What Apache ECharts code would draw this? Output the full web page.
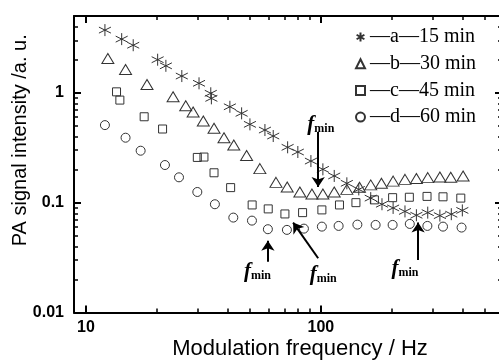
<!DOCTYPE html>
<html><head><meta charset="utf-8">
<script src="https://cdn.jsdelivr.net/npm/echarts@6/dist/echarts.min.js"></script>
<style>html,body{margin:0;padding:0;background:#fff}#c{width:499px;height:360px}</style>
</head><body><div id="c"></div>
<script>
// ---- data ----
const seriesNames = ['—a—15 min', '—b—30 min', '—c—45 min', '—d—60 min'];

const freqA = [12.05,14.2,15.9,20.2,21.9,25.6,30.3,34.0,34.2,41.0,46.0,49.9,57.8,62.7,72.2,79.8,90.7,102,114,129,145,163,182,203,228,255,285,321,359,400];
const valA  = [3.72,3.08,2.71,2.00,1.76,1.42,1.22,0.99,0.89,0.746,0.65,0.516,0.458,0.404,0.319,0.289,0.239,0.201,0.175,0.150,0.132,0.110,0.0967,0.0895,0.0832,0.0768,0.0811,0.0762,0.0785,0.085];

const freqB = [12.4,14.75,18.2,23.5,26.6,28.6,31.6,35.1,38.7,42.6,48.3,55.0,64.4,71.9,81.4,91.6,102,114,129,146,163,181,203,228,255,285,321,357,403];
const valB  = [2.05,1.63,1.19,0.92,0.762,0.668,0.553,0.475,0.390,0.335,0.269,0.204,0.153,0.139,0.125,0.120,0.120,0.125,0.132,0.138,0.145,0.150,0.157,0.163,0.166,0.169,0.171,0.170,0.175];

const freqC = [13.5,13.95,17.7,21.2,29.8,31.8,35.1,41.3,51.0,59.7,70.3,83.6,101,120,141,169,202,238,283,331,394];
const valC  = [1.02,0.858,0.605,0.468,0.258,0.26,0.187,0.137,0.0953,0.0877,0.0789,0.0811,0.0859,0.0953,0.100,0.106,0.111,0.112,0.114,0.113,0.110];

const freqD = [12.05,14.75,17.1,21.7,24.9,29.8,35.4,42.4,50.9,59.5,71.7,84.7,101,119,143,171,202,239,284,331,397];
const valD  = [0.508,0.390,0.297,0.220,0.170,0.125,0.0967,0.0731,0.0686,0.0573,0.0565,0.0580,0.0605,0.0614,0.0631,0.0627,0.0627,0.064,0.0614,0.0605,0.0593];

// ticks
const xMajorTicks = [10, 100];
const xMinorTicks = [20,30,40,50,60,70,80,90,200,300,400,500];
const xTickLabels = ['10', '100'];
const yMajorTicks = [0.01, 0.1, 1];
const yMinorTicks = [0.02,0.03,0.04,0.05,0.06,0.07,0.08,0.09,0.2,0.3,0.4,0.5,0.6,0.7,0.8,0.9,2,3,4];
const yTickLabels = ['0.01', '0.1', '1'];

// annotations (data coordinates)
const fminArrows = [
  [[97.4, 0.44], [97.4, 0.139]],
  [[59.5, 0.0289], [59.5, 0.0451]],
  [[97.4, 0.0312], [76.2, 0.0658]],
  [[259.4, 0.0301], [259.4, 0.0658]]
];
const fminLabels = [[100, 0.519], [53.7, 0.0239], [102.3, 0.0225], [227.8, 0.0255]];

// ---- chart ----
const XMIN = 8.9, XMAX = 590, YMIN = 0.01, YMAX = 5;
const AX = '#000';

function xAxisDef(pos, ticks, len, labels, showLine) {
  return {
    type: 'log', logBase: 10, position: pos, min: XMIN, max: XMAX, gridIndex: 0,
    axisLine: { show: showLine, onZero: false, lineStyle: { color: AX, width: 2 } },
    axisTick: { show: true, inside: true, length: len, customValues: ticks, lineStyle: { color: AX, width: len > 5 ? 2 : 1.5 } },
    minorTick: { show: false },
    splitLine: { show: false },
    axisLabel: labels ? {
      show: true, customValues: xMajorTicks, margin: 7,
      formatter: v => { const i = xMajorTicks.findIndex(t => Math.abs(t - v) / t < 1e-6); return i >= 0 ? xTickLabels[i] : ''; },
      color: '#000', fontFamily: 'Liberation Sans, Arial', fontWeight: 'bold', fontSize: 16
    } : { show: false }
  };
}
function yAxisDef(pos, ticks, len, labels, showLine) {
  return {
    type: 'log', logBase: 10, position: pos, min: YMIN, max: YMAX, gridIndex: 0,
    axisLine: { show: showLine, onZero: false, lineStyle: { color: AX, width: 2 } },
    axisTick: { show: true, inside: true, length: len, customValues: ticks, lineStyle: { color: AX, width: len > 5 ? 2 : 1.5 } },
    minorTick: { show: false },
    splitLine: { show: false },
    axisLabel: labels ? {
      show: true, customValues: yMajorTicks, margin: 10,
      formatter: v => { const i = yMajorTicks.findIndex(t => Math.abs(t - v) / t < 1e-6); return i >= 0 ? yTickLabels[i] : ''; },
      color: '#000', fontFamily: 'Liberation Sans, Arial', fontWeight: 'bold', fontSize: 16
    } : { show: false }
  };
}

const xAxes = [
  Object.assign(xAxisDef('bottom', xMajorTicks, 7, true, true), {
    name: 'Modulation frequency / Hz', nameLocation: 'middle', nameGap: 25, nameMoveOverlap: false,
    nameTextStyle: { fontFamily: 'Liberation Sans, Arial', fontSize: 22, color: '#000', padding: [0, 0, 0, 24] }
  }),
  xAxisDef('bottom', xMinorTicks, 4, false, false),
  xAxisDef('top', xMajorTicks, 7, false, true),
  xAxisDef('top', xMinorTicks, 4, false, false)
];
const yAxes = [
  Object.assign(yAxisDef('left', yMajorTicks, 7, true, true), {
    name: 'PA signal intensity /a. u.', nameLocation: 'middle', nameGap: 44, nameMoveOverlap: false,
    nameTextStyle: { fontFamily: 'Liberation Sans, Arial', fontSize: 20, color: '#000', padding: [0, 0, 0, 48] }
  }),
  yAxisDef('left', yMinorTicks, 4, false, false),
  yAxisDef('right', yMajorTicks, 7, false, true),
  yAxisDef('right', yMinorTicks, 4, false, false)
];

const asterisk = 'path://M0,-6L0,6M-5.2,-3L5.2,3M-5.2,3L5.2,-3';
const mk = '#333';
function pairs(fs, vs) { return fs.map((f, i) => [f, vs[i]]); }
function scat(name, fs, vs, symbol, size) {
  return {
    type: 'scatter', name, data: pairs(fs, vs), symbol, symbolSize: size,
    xAxisIndex: 0, yAxisIndex: 0, silent: true,
    itemStyle: { color: 'rgba(0,0,0,0)', borderColor: mk, borderWidth: 1, opacity: 1 }
  };
}

const series = [
  scat(seriesNames[0], freqA, valA, asterisk, 12),
  scat(seriesNames[1], freqB, valB, 'triangle', [12, 10]),
  scat(seriesNames[2], freqC, valC, 'rect', 8),
  scat(seriesNames[3], freqD, valD, 'circle', 9)
];
series.push({
  type: 'scatter', name: 'annot', data: [], xAxisIndex: 0, yAxisIndex: 0, silent: true,
  markLine: {
    silent: true, animation: false, symbol: ['none', 'arrow'], symbolSize: 10,
    lineStyle: { color: '#000', width: 2, type: 'solid' },
    itemStyle: { color: '#000' },
    label: { show: false },
    emphasis: { disabled: true },
    data: fminArrows.map(a => [{ coord: a[0] }, { coord: a[1] }])
  },
  markPoint: {
    silent: true, animation: false, symbol: 'rect', symbolSize: 1,
    itemStyle: { color: 'rgba(0,0,0,0)' },
    label: {
      show: true, position: 'inside', formatter: '{f|f}{m|min}',
      rich: {
        f: { fontFamily: 'Liberation Serif, Times New Roman', fontStyle: 'italic', fontWeight: 'bold', fontSize: 21, color: '#000', lineHeight: 22, verticalAlign: 'bottom' },
        m: { fontFamily: 'Liberation Serif, Times New Roman', fontWeight: 'bold', fontSize: 12, color: '#000', lineHeight: 10, verticalAlign: 'bottom' }
      }
    },
    data: fminLabels.map(c => ({ coord: c }))
  }
});

const chart = echarts.init(document.getElementById('c'), null, { renderer: 'canvas' });
chart.setOption({
  animation: false,
  backgroundColor: '#fff',
  grid: { left: 74, top: 16, width: 428, height: 296.5, containLabel: false, outerBoundsMode: 'none' },
  xAxis: xAxes,
  yAxis: yAxes,
  legend: {
    data: seriesNames, orient: 'vertical', left: 355, top: 27, itemGap: 6.7,
    itemWidth: 9, itemHeight: 9, selectedMode: false, padding: 0,
    textStyle: { fontFamily: 'Liberation Serif, Times New Roman', fontSize: 20, color: '#000', lineHeight: 20 }
  },
  series
});
</script>
</body></html>
